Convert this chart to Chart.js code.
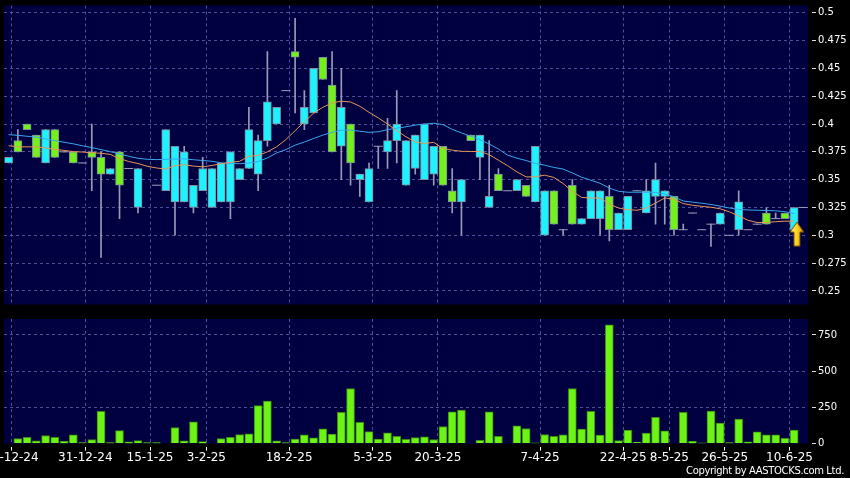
<!DOCTYPE html>
<html>
<head>
<meta charset="utf-8">
<title>Daily chart</title>
<script src="https://cdn.jsdelivr.net/npm/chart.js@4.4.1/dist/chart.umd.min.js"></script>
<style>
    html, body { margin: 0; padding: 0; background: #000; }
    body { position: relative; width: 850px; height: 478px; overflow: hidden; font-family: "DejaVu Sans", sans-serif; }
    canvas { position: absolute; left: -30px; }
    #priceChart { top: 0; }
    #volumeChart { top: 310px; }
    #copyright { position: absolute; right: 6px; top: 465px; color: #fff; font-size: 10px; letter-spacing: -0.35px; line-height: 11px; white-space: nowrap; }
</style>
</head>
<body>
<canvas id="priceChart" width="880" height="310"></canvas>
<canvas id="volumeChart" width="880" height="168"></canvas>
<div id="copyright">Copyright by AASTOCKS.com Ltd.</div>
<script>
const tickLabels = ["17-12-24", "31-12-24", "15-1-25", "3-2-25", "18-2-25", "5-3-25", "20-3-25", "7-4-25", "22-4-25", "8-5-25", "26-5-25", "10-6-25"];
const tickIndex = [0.3, 8.3, 15.3, 21.4, 30.35, 39.4, 46.45, 57.5, 66.5, 71.5, 77.5, 84.5];
const priceTicks = [0.25, 0.275, 0.3, 0.325, 0.35, 0.375, 0.4, 0.425, 0.45, 0.475, 0.5];
const volumeTicks = [0, 250, 500, 750];

// one entry per trading day (87 days), null = no trade
const openPrices = [
    0.365, 0.385, 0.400, 0.390, 0.365, 0.395, 0.375, 0.375, 0.365, 0.375,
    0.370, 0.355, 0.375, 0.360, 0.325, null, 0.345, 0.340, 0.330, 0.330,
    0.325, 0.340, 0.325, 0.330, 0.330, 0.350, 0.360, 0.355, 0.385, 0.400,
    0.430, 0.465, 0.400, 0.410, 0.460, 0.435, 0.380, 0.400, 0.350, 0.330,
    0.380, 0.375, 0.385, 0.345, 0.360, 0.350, 0.355, 0.380, 0.340, 0.330,
    0.390, 0.370, 0.325, 0.355, 0.340, 0.340, 0.345, 0.330, 0.300, 0.340,
    0.305, 0.345, 0.310, 0.315, 0.315, 0.335, 0.305, 0.305, 0.340, 0.320,
    0.335, 0.335, 0.335, 0.305, 0.320, 0.305, 0.310, 0.310, 0.300, 0.305,
    0.305, 0.310, 0.320, 0.315, 0.320, 0.305, 0.325
];
const highPrices = [
    0.370, 0.395, 0.400, 0.390, 0.395, 0.395, 0.375, 0.375, 0.365, 0.400,
    0.375, 0.360, 0.375, 0.360, 0.360, null, 0.345, 0.395, 0.380, 0.380,
    0.345, 0.370, 0.360, 0.365, 0.375, 0.360, 0.415, 0.390, 0.465, 0.415,
    0.430, 0.495, 0.430, 0.450, 0.460, 0.465, 0.450, 0.400, 0.355, 0.365,
    0.380, 0.405, 0.430, 0.385, 0.390, 0.400, 0.380, 0.380, 0.360, 0.350,
    0.390, 0.390, 0.385, 0.360, 0.340, 0.350, 0.345, 0.380, 0.340, 0.340,
    0.305, 0.350, 0.315, 0.340, 0.340, 0.345, 0.320, 0.335, 0.340, 0.350,
    0.365, 0.340, 0.335, 0.310, 0.320, 0.305, 0.310, 0.320, 0.300, 0.340,
    0.305, 0.310, 0.325, 0.320, 0.320, 0.325, 0.325
];
const lowPrices = [
    0.365, 0.375, 0.395, 0.370, 0.365, 0.370, 0.375, 0.365, 0.365, 0.340,
    0.280, 0.355, 0.315, 0.360, 0.320, null, 0.345, 0.340, 0.300, 0.330,
    0.320, 0.340, 0.325, 0.330, 0.315, 0.350, 0.360, 0.340, 0.380, 0.400,
    0.430, 0.410, 0.395, 0.410, 0.440, 0.375, 0.350, 0.345, 0.335, 0.330,
    0.360, 0.360, 0.365, 0.345, 0.355, 0.350, 0.345, 0.345, 0.320, 0.300,
    0.385, 0.350, 0.325, 0.340, 0.340, 0.340, 0.335, 0.330, 0.300, 0.310,
    0.300, 0.310, 0.310, 0.315, 0.300, 0.295, 0.305, 0.305, 0.340, 0.320,
    0.310, 0.310, 0.300, 0.305, 0.320, 0.305, 0.290, 0.310, 0.300, 0.300,
    0.305, 0.310, 0.310, 0.315, 0.315, 0.305, 0.325
];
const closePrices = [
    0.370, 0.375, 0.395, 0.370, 0.395, 0.370, 0.375, 0.365, 0.365, 0.370,
    0.355, 0.360, 0.345, 0.360, 0.360, null, 0.345, 0.395, 0.380, 0.375,
    0.345, 0.360, 0.360, 0.365, 0.375, 0.360, 0.395, 0.385, 0.420, 0.415,
    0.430, 0.460, 0.415, 0.450, 0.440, 0.375, 0.415, 0.365, 0.355, 0.360,
    0.380, 0.385, 0.400, 0.385, 0.390, 0.400, 0.380, 0.345, 0.330, 0.350,
    0.385, 0.390, 0.335, 0.340, 0.340, 0.350, 0.335, 0.380, 0.340, 0.310,
    0.305, 0.310, 0.315, 0.340, 0.340, 0.305, 0.320, 0.335, 0.340, 0.340,
    0.350, 0.340, 0.305, 0.305, 0.320, 0.305, 0.310, 0.320, 0.300, 0.330,
    0.305, 0.310, 0.310, 0.315, 0.315, 0.325, 0.325
];
const volumes = [
    0, 35, 44, 19, 56, 44, 16, 60, 7, 28,
    222, 7, 90, 12, 21, 7, 7, 0, 111, 19,
    150, 14, 0, 35, 44, 63, 67, 262, 294, 19,
    7, 32, 60, 39, 102, 65, 215, 380, 146, 83,
    32, 74, 51, 30, 42, 46, 28, 118, 220, 231,
    0, 23, 220, 51, 0, 123, 104, 5, 63, 51,
    60, 380, 100, 222, 58, 820, 21, 93, 9, 72,
    181, 88, 0, 215, 16, 5, 225, 141, 7, 169,
    12, 81, 60, 60, 37, 93, 0
];
const maShort = [
    0.3805, 0.3795, 0.3795, 0.3795, 0.3785, 0.3772, 0.3763, 0.3752, 0.3748, 0.3742,
    0.3737, 0.3727, 0.3690, 0.3663, 0.3645, 0.3620, 0.3605, 0.3595, 0.3625, 0.3634,
    0.3622, 0.3615, 0.3628, 0.3643, 0.3655, 0.3665, 0.3710, 0.3717, 0.3750, 0.3795,
    0.3860, 0.3940, 0.4020, 0.4097, 0.4150, 0.4190, 0.4205, 0.4198, 0.4160, 0.4105,
    0.4055, 0.4000, 0.3940, 0.3885, 0.3840, 0.3825, 0.3835, 0.3780, 0.3765, 0.3755,
    0.3753, 0.3753, 0.3725, 0.3675, 0.3625, 0.3570, 0.3525, 0.3525, 0.3540, 0.3520,
    0.3465, 0.3395, 0.3340, 0.3335, 0.3335, 0.3280, 0.3245, 0.3230, 0.3225, 0.3245,
    0.3290, 0.3335, 0.3325, 0.3285, 0.3270, 0.3260, 0.3252, 0.3238, 0.3210, 0.3175,
    0.3135, 0.3115, 0.3115, 0.3122, 0.3127, 0.3127, null
];
const maLong = [
    0.3905, 0.3898, 0.3890, 0.3882, 0.3866, 0.3851, 0.3836, 0.3822, 0.3804, 0.3788,
    0.3770, 0.3752, 0.3730, 0.3710, 0.3692, 0.3683, 0.3680, 0.3682, 0.3686, 0.3687,
    0.3679, 0.3672, 0.3665, 0.3651, 0.3646, 0.3643, 0.3650, 0.3662, 0.3695, 0.3740,
    0.3770, 0.3810, 0.3838, 0.3870, 0.3900, 0.3925, 0.3945, 0.3945, 0.3935, 0.3925,
    0.3930, 0.3950, 0.3962, 0.3975, 0.3990, 0.4000, 0.4007, 0.3995, 0.3952, 0.3920,
    0.3890, 0.3860, 0.3820, 0.3775, 0.3720, 0.3693, 0.3672, 0.3645, 0.3630, 0.3610,
    0.3595, 0.3560, 0.3522, 0.3495, 0.3467, 0.3425, 0.3395, 0.3387, 0.3387, 0.3387,
    0.3385, 0.3372, 0.3345, 0.3308, 0.3298, 0.3288, 0.3277, 0.3262, 0.3245, 0.3232,
    0.3228, 0.3225, 0.3223, 0.3220, 0.3212, 0.3195, null
];
const arrowMarks = [{ x: 85.3, y: 0.301 }];

const navy = "#000040";
const gridColor = "#4f4f98";
const upColor = "#1ff2ff";
const downColor = "#74f01a";
const candleBorder = "#7d8ea0";
const wickColor = "#9a9ab8";
const volumeColor = "#6cf514";
const volumeBorder = "#3b8a12";

Chart.defaults.font.family = '"DejaVu Sans", sans-serif';
Chart.defaults.color = "#fff";

const plotBackground = {
    id: "plotBackground",
    beforeDraw(chart) {
        const { ctx, chartArea } = chart;
        ctx.save();
        ctx.fillStyle = navy;
        ctx.fillRect(chartArea.left, chartArea.top, chartArea.width, chartArea.height);
        ctx.restore();
    }
};

function toPoints(values) {
    return values.map((value, index) => ({ x: index, y: value }));
}

function makeArrowImage() {
    const canvas = document.createElement("canvas");
    canvas.width = 16;
    canvas.height = 26;
    const g = canvas.getContext("2d");
    const grad = g.createLinearGradient(0, 0, 16, 0);
    grad.addColorStop(0, "#fff4a8");
    grad.addColorStop(0.5, "#ffd21e");
    grad.addColorStop(1, "#d08a00");
    g.beginPath();
    g.moveTo(8, 1);
    g.lineTo(15, 11);
    g.lineTo(11, 11);
    g.lineTo(11, 25);
    g.lineTo(5, 25);
    g.lineTo(5, 11);
    g.lineTo(1, 11);
    g.closePath();
    g.fillStyle = grad;
    g.fill();
    g.strokeStyle = "#6b4a00";
    g.lineWidth = 1;
    g.stroke();
    return canvas;
}

const wickData = [];
const bodyData = [];
const bodyColors = [];
const dojiData = [];
openPrices.forEach((open, i) => {
    if (open === null) return;
    const close = closePrices[i];
    wickData.push({ x: i, y: [lowPrices[i], highPrices[i]] });
    if (open === close) {
        dojiData.push({ x: i, y: open });
        return;
    }
    bodyData.push({ x: i, y: [open, close] });
    bodyColors.push(close > open ? upColor : downColor);
});

const volumeData = toPoints(volumes).filter((point) => point.y > 0);

function dateAxis(showLabels) {
    return {
        type: "linear",
        min: -0.5,
        max: 86.5,
        offset: false,
        afterBuildTicks: (axis) => { axis.ticks = tickIndex.map((value) => ({ value })); },
        afterFit: (axis) => {
            if (!showLabels) axis.height = 0;
        },
        grid: {
            offset: false,
            color: gridColor,
            drawTicks: showLabels,
            tickLength: 7,
            tickColor: "#fff",
            tickBorderDash: [0, 3, 4, 20]
        },
        border: { display: false, dash: [3, 3] },
        ticks: {
            display: showLabels,
            autoSkip: false,
            maxRotation: 0,
            minRotation: 0,
            padding: 0,
            color: "#fff",
            font: { size: 12 },
            callback: (value, index) => tickLabels[index]
        }
    };
}

function valueAxis(min, max, values) {
    return {
        position: "right",
        min: min,
        max: max,
        afterBuildTicks: (axis) => { axis.ticks = values.map((value) => ({ value })); },
        afterFit: (axis) => {
            axis.width = 42;
            axis.paddingTop = 0;
            axis.paddingBottom = 0;
        },
        grid: {
            color: (ctx) => (ctx.tick && ctx.tick.value === 0 ? "transparent" : gridColor),
            tickLength: 8,
            tickColor: "#ddd",
            tickBorderDash: [0, 4, 4, 20]
        },
        border: { display: false, dash: [3, 3] },
        ticks: {
            autoSkip: false,
            padding: 2,
            color: "#fff",
            font: { size: 10 },
            callback: (value) => String(Number(value.toFixed(3)))
        }
    };
}

const baseOptions = {
    responsive: false,
    animation: false,
    devicePixelRatio: 1,
    events: [],
    plugins: {
        legend: { display: false },
        tooltip: { enabled: false }
    }
};

new Chart(document.getElementById("priceChart"), {
    type: "bar",
    data: {
        datasets: [
            {
                type: "line",
                label: "Signal",
                data: arrowMarks,
                showLine: false,
                pointStyle: makeArrowImage(),
                order: 0
            },
            {
                type: "line",
                label: "MA short",
                data: toPoints(maShort),
                borderColor: "#e89558",
                borderWidth: 1,
                pointRadius: 0,
                tension: 0,
                order: 1
            },
            {
                type: "line",
                label: "MA long",
                data: toPoints(maLong),
                borderColor: "#3aa6ec",
                borderWidth: 1,
                pointRadius: 0,
                tension: 0,
                order: 1
            },
            {
                type: "line",
                label: "Doji",
                data: dojiData,
                showLine: false,
                pointStyle: "line",
                pointRadius: 4.5,
                borderColor: wickColor,
                borderWidth: 1,
                order: 2
            },
            {
                label: "Body",
                data: bodyData,
                backgroundColor: bodyColors,
                borderColor: candleBorder,
                borderWidth: 1,
                borderSkipped: false,
                barThickness: 8,
                grouped: false,
                order: 3
            },
            {
                label: "Wick",
                data: wickData,
                backgroundColor: wickColor,
                borderWidth: 0,
                barThickness: 1,
                grouped: false,
                order: 4
            }
        ]
    },
    options: {
        ...baseOptions,
        layout: { padding: { left: 34, right: 0, top: 5, bottom: 4 } },
        scales: {
            x: dateAxis(false),
            y: valueAxis(0.2378, 0.5065, priceTicks)
        }
    },
    plugins: [plotBackground]
});

new Chart(document.getElementById("volumeChart"), {
    type: "bar",
    data: {
        datasets: [{
            label: "Volume",
            data: volumeData,
            backgroundColor: volumeColor,
            borderColor: volumeBorder,
            borderWidth: 1,
            barThickness: 8,
            grouped: false
        }]
    },
    options: {
        ...baseOptions,
        layout: { padding: { left: 34, right: 0, top: 9, bottom: 13 } },
        scales: {
            x: dateAxis(true),
            y: valueAxis(0, 860, volumeTicks)
        }
    },
    plugins: [plotBackground]
});
</script>
</body>
</html>
